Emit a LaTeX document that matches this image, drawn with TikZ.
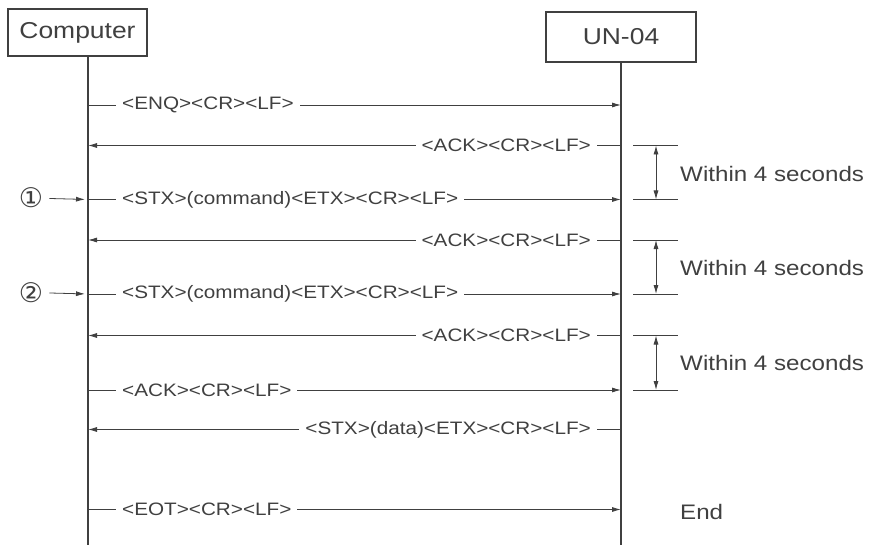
\documentclass[tikz,border=0pt]{standalone}
\usepackage{fontspec}
\setmainfont{Liberation Sans}[FakeStretch=1.15]
\newfontfamily\circfont{DejaVu Sans}
\usetikzlibrary{arrows.meta}
\definecolor{ink}{HTML}{404040}
\tikzset{
  actor/.style={draw=ink, line width=1.4pt, inner sep=0pt, text=ink,
    font=\fontsize{23}{27}\selectfont},
  life/.style={ink, line width=1.6pt},
  msg/.style={ink, line width=0.8pt, -{Latex[length=9pt,width=5pt]}},
  lbl/.style={fill=white, text=ink, inner xsep=6pt, inner ysep=1pt,
    font=\fontsize{18}{21}\selectfont},
  note/.style={anchor=west, text=ink, inner sep=0pt,
    font=\fontsize{21}{25}\selectfont},
  tickline/.style={ink, line width=0.8pt},
  span/.style={ink, line width=0.8pt,
    {Latex[length=9pt,width=5pt]}-{Latex[length=9pt,width=5pt]}},
  circ/.style={text=ink, inner sep=2pt, font=\circfont\fontsize{27}{30}\selectfont},
}
\begin{document}
\begin{tikzpicture}[x=1pt, y=-1pt]
  \useasboundingbox (0,0) rectangle (869,545);
  % participants
  \node[actor, minimum width=139pt, minimum height=47pt] (comp) at (77.5,32.5) {Computer};
  \node[actor, minimum width=150pt, minimum height=50pt] (unit) at (621,37) {UN-04};
  \coordinate (cEnd) at (88,545);
  \coordinate (uEnd) at (621,545);
  \draw[life] (comp.south -| cEnd) -- (cEnd);
  \draw[life] (unit.south -| uEnd) -- (uEnd);

  % points on the lifelines
  \coordinate (c1) at (88,105);   \coordinate (u1) at (621,105);
  \coordinate (c2) at (88,145.5); \coordinate (u2) at (621,145.5);
  \coordinate (c3) at (88,199.5); \coordinate (u3) at (621,199.5);
  \coordinate (c4) at (88,240);   \coordinate (u4) at (621,240);
  \coordinate (c5) at (88,294);   \coordinate (u5) at (621,294);
  \coordinate (c6) at (88,335.5); \coordinate (u6) at (621,335.5);
  \coordinate (c7) at (88,390);   \coordinate (u7) at (621,390);
  \coordinate (c8) at (88,429.5); \coordinate (u8) at (621,429.5);
  \coordinate (c9) at (88,509.5); \coordinate (u9) at (621,509.5);

  % messages
  \draw[msg] (c1) -- (u1);
  \node[lbl, anchor=west] (m1) at (116,105) {<ENQ><CR><LF>};
  \draw[msg] (u2) -- (c2);
  \node[lbl, anchor=east] (m2) at (597,145.5) {<ACK><CR><LF>};
  \draw[msg] (c3) -- (u3);
  \node[lbl, anchor=west] (m3) at (116,199.5) {<STX>(command)<ETX><CR><LF>};
  \draw[msg] (u4) -- (c4);
  \node[lbl, anchor=east] (m4) at (597,240) {<ACK><CR><LF>};
  \draw[msg] (c5) -- (u5);
  \node[lbl, anchor=west] (m5) at (116,294) {<STX>(command)<ETX><CR><LF>};
  \draw[msg] (u6) -- (c6);
  \node[lbl, anchor=east] (m6) at (597,335.5) {<ACK><CR><LF>};
  \draw[msg] (c7) -- (u7);
  \node[lbl, anchor=west] (m7) at (116,390) {<ACK><CR><LF>};
  \draw[msg] (u8) -- (c8);
  \node[lbl, anchor=east] (m8) at (597,429.5) {<STX>(data)<ETX><CR><LF>};
  \draw[msg] (c9) -- (u9);
  \node[lbl, anchor=west] (m9) at (116,509.5) {<EOT><CR><LF>};

  % step markers
  \node[circ] (n1) at (31,198) {①};
  \node[circ] (n2) at (31,292.5) {②};
  \draw[msg, shorten <=4pt, shorten >=3pt] (n1) -- (c3);
  \draw[msg, shorten <=4pt, shorten >=3pt] (n2) -- (c5);

  % timing spans
  \draw[tickline] (633,145.5) -- (678,145.5);
  \draw[tickline] (633,199.5) -- (678,199.5);
  \draw[tickline] (633,240) -- (678,240);
  \draw[tickline] (633,294) -- (678,294);
  \draw[tickline] (633,335.5) -- (678,335.5);
  \draw[tickline] (633,390) -- (678,390);
  \coordinate (s1a) at (656,145.5); \coordinate (s1b) at (656,199.5);
  \coordinate (s2a) at (656,240);   \coordinate (s2b) at (656,294);
  \coordinate (s3a) at (656,335.5); \coordinate (s3b) at (656,390);
  \draw[span] (s1a) -- (s1b);
  \draw[span] (s2a) -- (s2b);
  \draw[span] (s3a) -- (s3b);
  \node[note] (w1) at (680,174) {Within 4 seconds};
  \node[note] (w2) at (680,268) {Within 4 seconds};
  \node[note] (w3) at (680,363) {Within 4 seconds};
  \node[note] (fin) at (680,512) {End};
\end{tikzpicture}
\end{document}
